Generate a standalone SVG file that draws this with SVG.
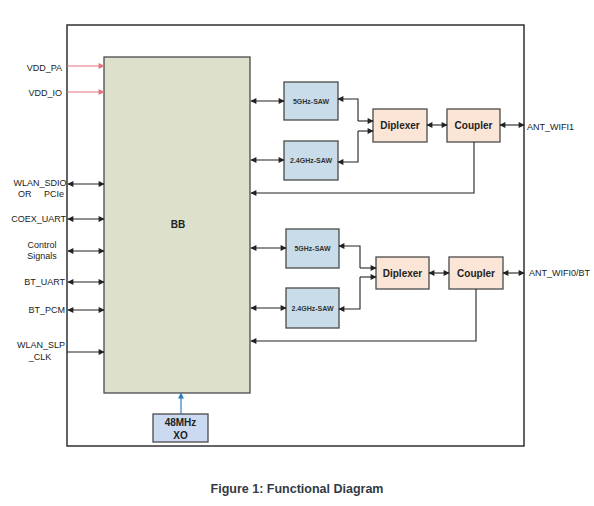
<svg xmlns="http://www.w3.org/2000/svg" width="594" height="506" viewBox="0 0 594 506">
<defs>
<marker id="ah" viewBox="0 0 10 10" refX="9" refY="5" markerWidth="7" markerHeight="6" orient="auto-start-reverse" markerUnits="userSpaceOnUse"><path d="M0,0 L10,5 L0,10 z" fill="#222"/></marker>
<marker id="ahr" viewBox="0 0 10 10" refX="9" refY="5" markerWidth="7" markerHeight="6" orient="auto" markerUnits="userSpaceOnUse"><path d="M0,0 L10,5 L0,10 z" fill="#e5737a"/></marker>
<marker id="ahb" viewBox="0 0 10 10" refX="9" refY="5" markerWidth="7" markerHeight="6" orient="auto" markerUnits="userSpaceOnUse"><path d="M0,0 L10,5 L0,10 z" fill="#2f7fc0"/></marker>
<style>
.lbl{font-family:"Liberation Sans",Arial,sans-serif;font-size:9px;fill:#222}
.box{stroke:#4a4a4a;stroke-width:1.3}
.saw{fill:#c8dde9}
.pe{fill:#fae5d6}
.sawt{font-family:"Liberation Sans",Arial,sans-serif;font-size:7px;font-weight:bold;fill:#333;text-anchor:middle}
.bt{font-family:"Liberation Sans",Arial,sans-serif;font-size:10px;font-weight:bold;fill:#222;text-anchor:middle}
.c{stroke:#222;stroke-width:1.1;fill:none}
.bi{marker-start:url(#ah);marker-end:url(#ah)}
.one{marker-end:url(#ah)}
</style>
</defs>
<rect width="594" height="506" fill="#fff"/>
<rect id="outer" x="67" y="25" width="457" height="421" fill="none" stroke="#222" stroke-width="1.4"/>
<g id="BB"><rect class="box" x="104" y="57" width="146" height="336" fill="#dde0cb"/><text class="bt" x="178" y="228">BB</text></g>
<g id="XO"><rect class="box" x="153" y="414" width="55" height="28" fill="#cbdaf0"/><text class="bt" x="180.5" y="426">48MHz</text><text class="bt" x="180.5" y="439">XO</text></g>
<g id="saw5a"><rect class="box saw" x="284" y="82" width="54" height="38"/><text class="sawt" x="311" y="103.5">5GHz-SAW</text></g>
<g id="saw24a"><rect class="box saw" x="284" y="141" width="54" height="39"/><text class="sawt" x="311" y="163">2.4GHz-SAW</text></g>
<g id="dipa"><rect class="box pe" x="373" y="109" width="54" height="33"/><text class="bt" x="400" y="129">Diplexer</text></g>
<g id="coupa"><rect class="box pe" x="447" y="109" width="53" height="33"/><text class="bt" x="473.5" y="129">Coupler</text></g>
<g id="saw5b"><rect class="box saw" x="286" y="229" width="53" height="39"/><text class="sawt" x="312.5" y="251">5GHz-SAW</text></g>
<g id="saw24b"><rect class="box saw" x="286" y="288" width="53" height="40"/><text class="sawt" x="312.5" y="311">2.4GHz-SAW</text></g>
<g id="dipb"><rect class="box pe" x="376" y="257" width="53" height="32"/><text class="bt" x="402.5" y="276.5">Diplexer</text></g>
<g id="coupb"><rect class="box pe" x="449" y="257" width="54" height="32"/><text class="bt" x="476" y="276.5">Coupler</text></g>
<g id="labels">
<text class="lbl" x="62" y="71" text-anchor="end">VDD_PA</text>
<text class="lbl" x="62" y="96" text-anchor="end">VDD_IO</text>
<text class="lbl" x="40" y="186" text-anchor="middle">WLAN_SDIO</text>
<text class="lbl" x="41" y="197" text-anchor="middle" xml:space="preserve">OR     PCIe</text>
<text class="lbl" x="66" y="222" text-anchor="end">COEX_UART</text>
<text class="lbl" x="42" y="248" text-anchor="middle">Control</text>
<text class="lbl" x="42" y="259" text-anchor="middle">Signals</text>
<text class="lbl" x="65" y="285" text-anchor="end">BT_UART</text>
<text class="lbl" x="65" y="313" text-anchor="end">BT_PCM</text>
<text class="lbl" x="41" y="348" text-anchor="middle">WLAN_SLP</text>
<text class="lbl" x="40" y="360" text-anchor="middle">_CLK</text>
<text class="lbl" x="527" y="130">ANT_WIFI1</text>
<text class="lbl" x="529" y="276">ANT_WIFI0/BT</text>
</g>
<g id="connectors">
<line x1="67" y1="66" x2="104" y2="66" stroke="#e5737a" stroke-width="1.1" marker-end="url(#ahr)"/>
<line x1="67" y1="92" x2="104" y2="92" stroke="#e5737a" stroke-width="1.1" marker-end="url(#ahr)"/>
<line x1="181" y1="414" x2="181" y2="393" stroke="#2f7fc0" stroke-width="1.2" marker-end="url(#ahb)"/>
<line class="c bi" x1="68" y1="184" x2="104" y2="184"/>
<line class="c bi" x1="68" y1="219" x2="104" y2="219"/>
<line class="c bi" x1="68" y1="251" x2="104" y2="251"/>
<line class="c bi" x1="68" y1="282" x2="104" y2="282"/>
<line class="c bi" x1="68" y1="310" x2="104" y2="310"/>
<line class="c one" x1="67" y1="352" x2="104" y2="352"/>
<line class="c bi" x1="251" y1="101" x2="284" y2="101"/>
<line class="c bi" x1="251" y1="160" x2="284" y2="160"/>
<line class="c bi" x1="251" y1="248" x2="286" y2="248"/>
<line class="c bi" x1="251" y1="308" x2="286" y2="308"/>
<polyline class="c" points="358,121 358,99 338,99" marker-end="url(#ah)"/>
<line class="c one" x1="358" y1="121" x2="373" y2="121"/>
<polyline class="c" points="358,131 358,162 338,162" marker-end="url(#ah)"/>
<line class="c one" x1="358" y1="131" x2="373" y2="131"/>
<polyline class="c" points="360,268 360,246 339,246" marker-end="url(#ah)"/>
<line class="c one" x1="360" y1="268" x2="376" y2="268"/>
<polyline class="c" points="360,277 360,309 339,309" marker-end="url(#ah)"/>
<line class="c one" x1="360" y1="277" x2="376" y2="277"/>
<line class="c bi" x1="427" y1="125" x2="447" y2="125"/>
<line class="c bi" x1="429" y1="273" x2="449" y2="273"/>
<line class="c bi" x1="500" y1="125" x2="524" y2="125"/>
<line class="c bi" x1="503" y1="273" x2="524" y2="273"/>
<polyline class="c" points="474,142 474,193 251,193" stroke="#555" marker-end="url(#ah)"/>
<polyline class="c" points="476,289 476,341 251,341" stroke="#555" marker-end="url(#ah)"/>
</g>
<text x="297" y="493" text-anchor="middle" font-family="'Liberation Sans',Arial,sans-serif" font-size="12.5" font-weight="bold" fill="#333a45">Figure 1: Functional Diagram</text>
</svg>
